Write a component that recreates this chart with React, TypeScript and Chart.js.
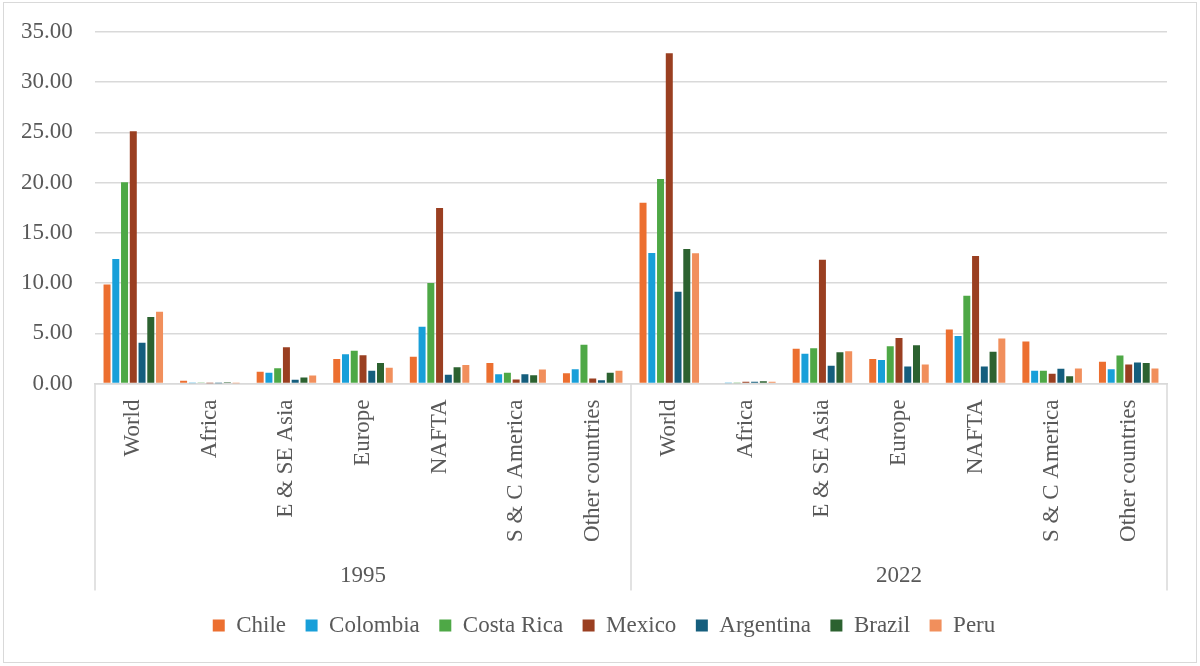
import { useEffect, useRef } from "react";
import { Chart, registerables } from "chart.js";
import type { ChartConfiguration, Plugin } from "chart.js";

Chart.register(...registerables);

// tick labels
const regions = [
  "World",
  "Africa",
  "E & SE Asia",
  "Europe",
  "NAFTA",
  "S & C America",
  "Other countries",
];
const years = ["1995", "2022"];

// values, 1995 block then 2022 block
const chile = [9.85, 0.27, 1.16, 2.43, 2.66, 2.03, 1.03, 18.0, 0.07, 3.46, 2.43, 5.38, 4.19, 2.16];
const colombia = [12.39, 0.02, 1.06, 2.92, 5.65, 0.93, 1.43, 12.99, 0.03, 2.96, 2.33, 4.72, 1.26, 1.43];
const costaRica = [20.03, 0.05, 1.53, 3.26, 10.0, 1.06, 3.85, 20.37, 0.03, 3.52, 3.72, 8.74, 1.26, 2.79];
const mexico = [25.12, 0.01, 3.62, 2.82, 17.47, 0.4, 0.5, 32.89, 0.17, 12.33, 4.52, 12.69, 0.96, 1.89];
const argentina = [4.05, 0.01, 0.37, 1.26, 0.86, 0.93, 0.33, 9.14, 0.17, 1.76, 1.69, 1.69, 1.46, 2.09];
const brazil = [6.61, 0.12, 0.6, 2.03, 1.63, 0.83, 1.06, 13.39, 0.23, 3.12, 3.82, 3.16, 0.73, 2.03];
const peru = [7.14, 0.01, 0.8, 1.56, 1.83, 1.4, 1.26, 12.96, 0.17, 3.22, 1.89, 4.49, 1.5, 1.5];

const series = [
  { label: "Chile", data: chile, color: "#ec6f30" },
  { label: "Colombia", data: colombia, color: "#189fd9" },
  { label: "Costa Rica", data: costaRica, color: "#4ea846" },
  { label: "Mexico", data: mexico, color: "#9a3f21" },
  { label: "Argentina", data: argentina, color: "#155e7d" },
  { label: "Brazil", data: brazil, color: "#2c6230" },
  { label: "Peru", data: peru, color: "#f18f5c" },
];

const FONT = "'Liberation Serif', 'Times New Roman', serif";
const TEXT = "#595959";
const LINE = "#d9d9d9";

// vertical separators of the two-level category axis (Excel style)
const groupLines: Plugin<"bar"> = {
  id: "groupLines",
  afterDraw(chart) {
    const x = chart.scales.x;
    const x2 = chart.scales.x2;
    const n = regions.length;
    const total = n * years.length;
    const ctx = chart.ctx;
    ctx.save();
    ctx.strokeStyle = LINE;
    ctx.lineWidth = 1.5;
    for (let k = 0; k <= years.length; k++) {
      const b = k * n;
      let px: number;
      if (b === 0) px = x.left;
      else if (b === total) px = x.right;
      else px = (x.getPixelForTick(b - 1) + x.getPixelForTick(b)) / 2;
      ctx.beginPath();
      ctx.moveTo(px, x.top);
      ctx.lineTo(px, x2.bottom - 4);
      ctx.stroke();
    }
    ctx.restore();
  },
};

export default function App() {
  const canvasRef = useRef<HTMLCanvasElement>(null);

  useEffect(() => {
    if (!canvasRef.current) return;

    const config: ChartConfiguration<"bar"> = {
      type: "bar",
      data: {
        labels: years.flatMap(() => regions),
        datasets: series.map((s) => ({
          label: s.label,
          data: s.data,
          backgroundColor: s.color,
          borderWidth: 0,
          barPercentage: 0.8,
          categoryPercentage: 0.8,
        })),
      },
      options: {
        animation: false,
        responsive: true,
        maintainAspectRatio: false,
        layout: { padding: { left: 41, right: 33, top: 32, bottom: 19 } },
        scales: {
          y: {
            min: 0,
            max: 35,
            afterFit: (s) => {
              s.width = 54;
            },
            ticks: {
              stepSize: 5,
              // mirrored so the labels are not clipped to the narrow axis box
              mirror: true,
              crossAlign: "far",
              padding: -74,
              color: TEXT,
              font: { family: FONT, size: 23 },
              callback: (v) => Number(v).toFixed(2),
            },
            grid: { color: LINE, lineWidth: 1.5, drawTicks: false },
            border: { display: false },
          },
          x: {
            weight: 0,
            afterFit: (s) => {
              s.height = 168.5;
            },
            ticks: {
              minRotation: 90,
              maxRotation: 90,
              padding: 8,
              autoSkip: false,
              color: TEXT,
              font: { family: FONT, size: 23 },
            },
            grid: { display: false },
            border: { display: true, color: LINE, width: 1.5 },
          },
          x2: {
            type: "category",
            labels: years,
            position: "bottom",
            weight: 1,
            offset: true,
            afterFit: (s) => {
              s.height = 42.5;
            },
            ticks: {
              padding: 2,
              color: TEXT,
              font: { family: FONT, size: 23 },
            },
            grid: { display: false },
            border: { display: false },
          },
        },
        plugins: {
          legend: {
            position: "bottom",
            labels: {
              boxWidth: 12,
              boxHeight: 12,
              padding: 19.5,
              color: TEXT,
              font: { family: FONT, size: 23 },
            },
          },
          tooltip: { enabled: false },
        },
      },
      plugins: [groupLines],
    };

    const chart = new Chart(canvasRef.current, config);
    return () => chart.destroy();
  }, []);

  return (
    <div
      style={{
        position: "fixed",
        left: 0,
        top: 0,
        width: 1200,
        height: 666,
        background: "#fff",
      }}
    >
      <div
        style={{
          position: "absolute",
          left: 3,
          top: 2,
          width: 1194,
          height: 661,
          border: `1.5px solid ${LINE}`,
          boxSizing: "border-box",
        }}
      />
      <div style={{ position: "absolute", left: 0, top: 0, width: 1200, height: 666 }}>
        <canvas ref={canvasRef} />
      </div>
    </div>
  );
}
